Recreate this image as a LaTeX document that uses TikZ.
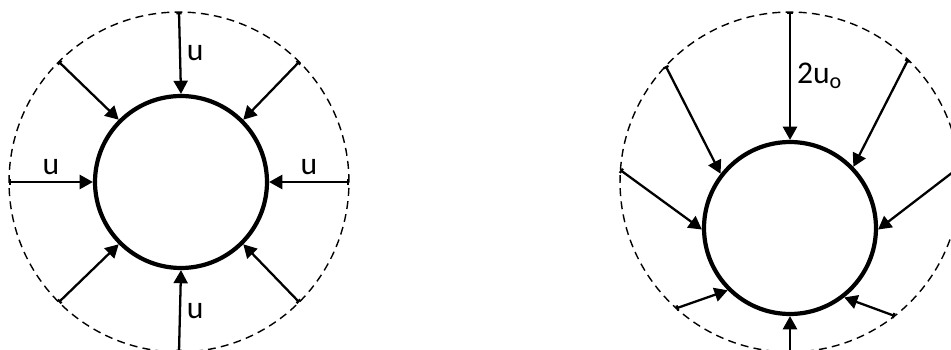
\documentclass[tikz,border=0pt]{standalone}
\usepackage{fontspec}
\setmainfont{Carlito}
\usetikzlibrary{arrows.meta}

\begin{document}
\begin{tikzpicture}[
        x=0.02cm, y=0.02cm,
        >={Triangle[length=7.5pt,width=8pt]},
        line width=1.3pt,
        every node/.style={font=\fontsize{18}{21}\selectfont},
        flow/.style={{Bar[width=3pt]}->},
        cyl/.style={draw, circle, line width=2.4pt, minimum size=3.44cm, inner sep=0pt},
        far/.style={draw, circle, line width=0.8pt, dash pattern=on 4.5pt off 3pt,
            minimum size=6.8cm, inner sep=0pt, outer sep=0pt}
    ]

        \useasboundingbox (0,0) rectangle (951,349);

        % Flusso uniforme
        \node[far] (farA) at (179,167) {};
        \node[cyl] (cylA) at (181,167) {};

        \foreach \a in {45,135,225,315}
            \draw[flow] (farA.\a) -- (cylA.\a);

        \draw[flow] (farA.90) -- (cylA.90)
            node[midway, right] {u};
        \draw[flow] (farA.180) -- (cylA.180)
            node[midway, above] {u};
        \draw[flow] (farA.0) -- (cylA.0)
            node[midway, above] {u};
        \draw[flow] (farA.270) -- (cylA.270)
            node[midway, right] {u};

        % Flusso deviato
        \node[far] (farB) at (790,167) {};
        \node[cyl] (cylB) at (790,121) {};

        \draw[flow] (farB.90) -- (cylB.90)
            node[midway, right] {2u\textsubscript{o}};
        \draw[flow] (farB.137) -- (cylB.142);
        \draw[flow] (farB.46) -- (cylB.44);
        \draw[flow] (farB.176) -- (cylB.181);
        \draw[flow] (farB.5) -- (cylB.359);
        \draw[flow] (farB.228) -- (cylB.225);
        \draw[flow] (farB.308) -- (cylB.308);
        \draw[flow] (farB.270) -- (cylB.270);

    \end{tikzpicture}
\end{document}
